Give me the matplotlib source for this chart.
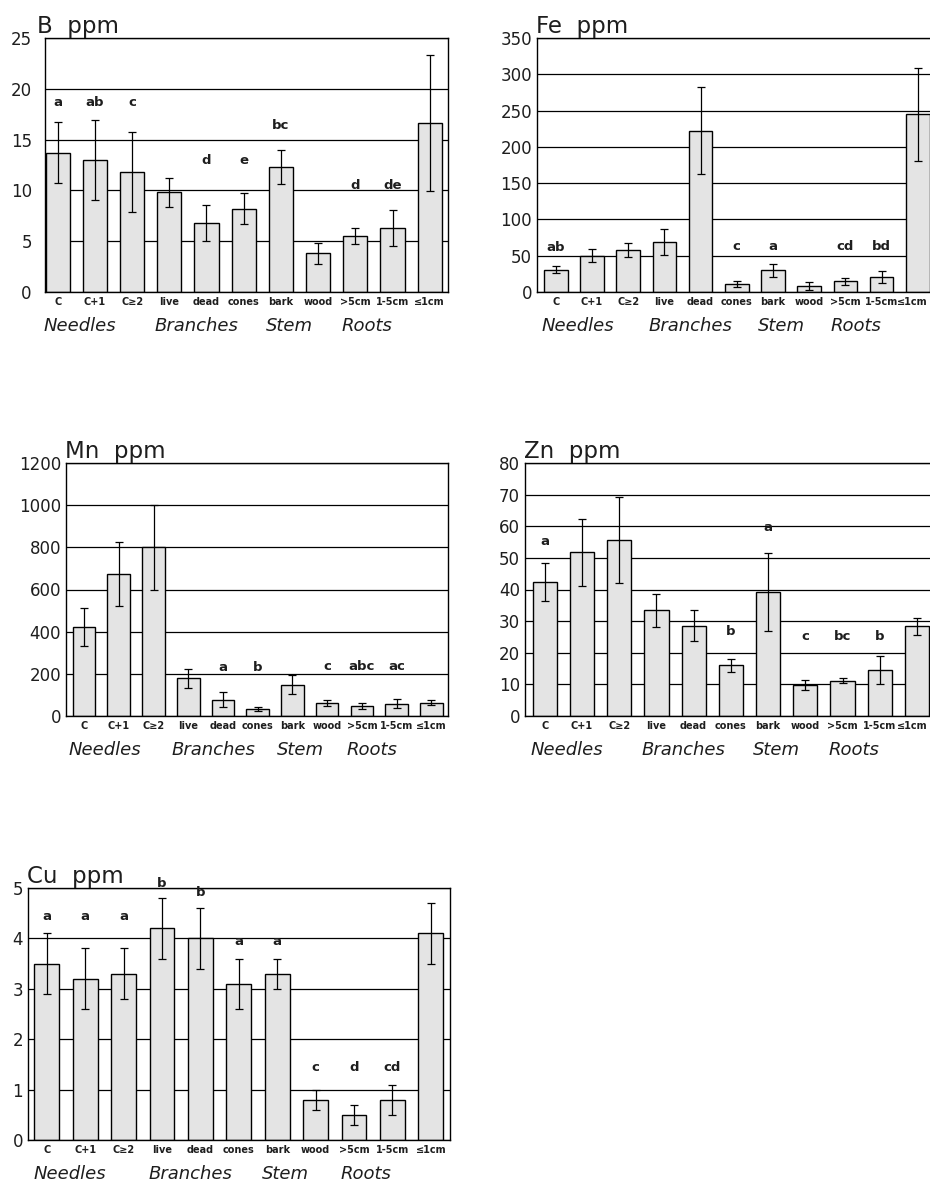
import matplotlib
matplotlib.use("Agg")
import matplotlib.pyplot as plt
import matplotlib.transforms as mtransforms
import numpy as np

plt.rcParams['font.family'] = ['DejaVu Sans']

# Tissue categories along the x axis
categories = ["C", "C+1", "C≥2", "live", "dead", "cones", "bark", "wood",
              ">5cm", "1-5cm", "≤1cm"]
groups = ["Needles", "Branches", "Stem", "Roots"]
group_x = [0.6, 3.73, 6.22, 8.3]

# Boron
b_mean = [13.7, 13.0, 11.8, 9.8, 6.8, 8.2, 12.3, 3.8, 5.5, 6.3, 16.6]
b_err = [3.0, 3.9, 3.9, 1.4, 1.8, 1.5, 1.7, 1.0, 0.8, 1.8, 6.7]
b_letters = ["a", "ab", "c", "", "d", "e", "bc", "", "d", "de", ""]
b_letter_y = [18.3, 18.3, 18.3, 0, 12.6, 12.6, 16.0, 0, 10.1, 10.1, 0]

# Iron
fe_mean = [31, 50, 58, 69, 222, 11, 30, 8, 14.5, 21, 245]
fe_err = [5, 9, 9.5, 18, 60, 4, 9, 5.5, 5, 8, 64]
fe_letters = ["ab", "", "", "", "", "c", "a", "", "cd", "bd", ""]
fe_letter_y = [57, 0, 0, 0, 0, 58, 58, 0, 58, 58, 0]

# Manganese
mn_mean = [420, 672, 800, 179, 78, 35, 149, 62, 48, 59, 63]
mn_err = [90, 152, 200, 44, 36, 10, 44, 15, 14, 22, 12]
mn_letters = ["", "", "", "", "a", "b", "", "c", "abc", "ac", ""]
mn_letter_y = [0, 0, 0, 0, 214, 214, 0, 220, 220, 220, 0]

# Zinc
zn_mean = [42.3, 51.7, 55.6, 33.4, 28.6, 16.0, 39.3, 9.7, 11.2, 14.6, 28.4]
zn_err = [6.0, 10.5, 13.7, 5.3, 4.9, 2.0, 12.3, 1.6, 0.8, 4.5, 2.7]
zn_letters = ["a", "", "", "", "", "b", "a", "c", "bc", "b", ""]
zn_letter_y = [54.0, 0, 0, 0, 0, 25.7, 58.5, 24.0, 24.0, 24.0, 0]

# Copper
cu_mean = [3.5, 3.2, 3.3, 4.2, 4.0, 3.1, 3.3, 0.8, 0.5, 0.8, 4.1]
cu_err = [0.6, 0.6, 0.5, 0.6, 0.6, 0.5, 0.3, 0.2, 0.2, 0.3, 0.6]
cu_letters = ["a", "a", "a", "b", "b", "a", "a", "c", "d", "cd", ""]
cu_letter_y = [4.36, 4.36, 4.36, 5.02, 4.85, 3.87, 3.87, 1.37, 1.37, 1.37, 0]

W, H = 930, 1184
fig = plt.figure(figsize=(W / 100, H / 100), dpi=100)

INK = "#1e1e1e"

# name, means, errs, letters, letter y, ymax, ystep,
# axes box in pixels (left, top, right, bottom), xlim, ytick pad,
# title x offset, shift of the last x label (pixels)
panels = [
    ("B", b_mean, b_err, b_letters, b_letter_y, 25, 5,
     (45, 38, 448, 292), (-0.34, 10.49), 9.5, -8, 0),
    ("Fe", fe_mean, fe_err, fe_letters, fe_letter_y, 350, 50,
     (537, 38, 936.6, 292), (-0.52, 10.52), 3.6, -1, -5),
    ("Mn", mn_mean, mn_err, mn_letters, mn_letter_y, 1200, 200,
     (66, 463, 448, 716), (-0.52, 10.48), 3.6, -1, 0),
    ("Zn", zn_mean, zn_err, zn_letters, zn_letter_y, 80, 10,
     (525, 463, 936.8, 716), (-0.53, 10.53), 3.6, -1, -5),
    ("Cu", cu_mean, cu_err, cu_letters, cu_letter_y, 5, 1,
     (28, 888, 450, 1140), (-0.49, 10.5), 3.6, -1, 0),
]

x = np.arange(len(categories))

for (name, mean, err, letters, ly, ymax, ystep, box, xlim, ypad, tdx,
     last_dx) in panels:
    l, t, r, b = box
    ax = fig.add_axes([l / W, 1 - b / H, (r - l) / W, (b - t) / H])
    ax.set_axisbelow(True)
    ax.yaxis.grid(True, color="black", linewidth=0.9)
    ax.bar(x, mean, width=0.65, color="#e4e4e4", edgecolor="black",
           linewidth=1.0, zorder=2)
    ax.errorbar(x, mean, yerr=err, fmt="none", ecolor="black",
                elinewidth=0.9, capsize=3, capthick=0.9, zorder=3)
    for xi, lab, yv in zip(x, letters, ly):
        if lab:
            ax.text(xi, yv, lab, ha="center", va="baseline", fontsize=9.5,
                    fontweight="bold", color=INK, clip_on=False)
    ax.set_xlim(*xlim)
    ax.set_ylim(0, ymax)
    ax.set_yticks(np.arange(0, ymax + ystep / 2, ystep))
    ax.set_xticks(x)
    ax.set_xticklabels(categories, fontsize=7, fontweight="bold", color=INK)
    ax.tick_params(axis="x", length=0, pad=3.5)
    ax.tick_params(axis="y", length=0, pad=ypad, labelsize=12,
                   labelcolor=INK)
    if last_dx:
        lbl = ax.get_xticklabels()[-1]
        lbl.set_transform(lbl.get_transform() + mtransforms.ScaledTranslation(
            last_dx / 100, 0, fig.dpi_scale_trans))
    for sp in ax.spines.values():
        sp.set_linewidth(1.0)
        sp.set_color("black")
    ax.annotate(f"{name}  ppm", xy=(0, 1), xycoords="axes fraction",
                xytext=(tdx, 5), textcoords="offset pixels",
                ha="left", va="baseline", fontsize=16.5, color=INK)
    for gx, g in zip(group_x, groups):
        ax.annotate(g, xy=(gx, 0), xycoords=("data", "axes fraction"),
                    xytext=(0, -34), textcoords="offset pixels",
                    ha="center", va="center", fontsize=13,
                    fontstyle="italic", color=INK, annotation_clip=False)

fig.savefig("out.png", dpi=100)
